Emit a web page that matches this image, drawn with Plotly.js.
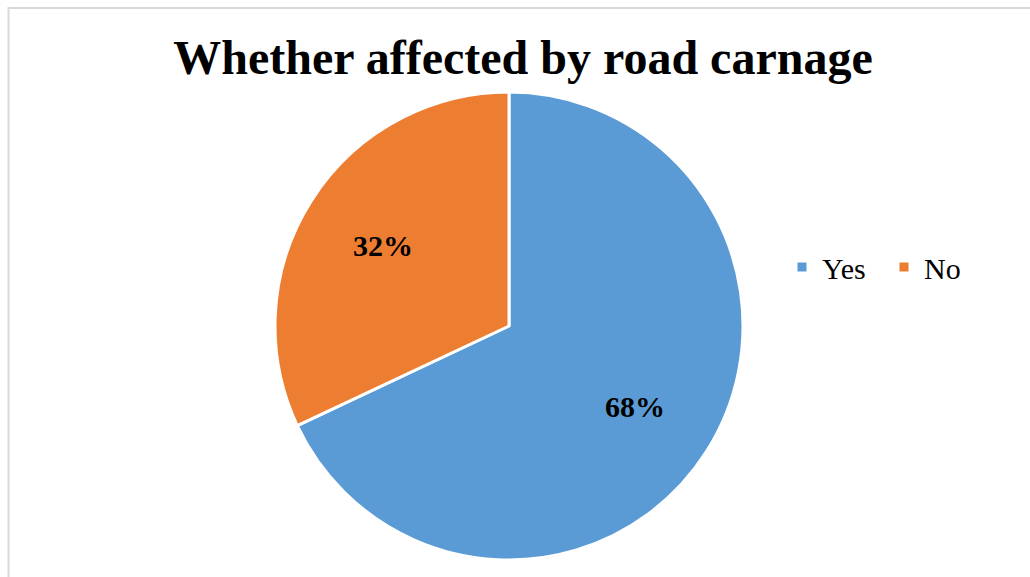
<!DOCTYPE html>
<html>
<head>
<meta charset="utf-8">
<script src="https://cdn.plot.ly/plotly-3.0.1.min.js"></script>
<style>html,body{margin:0;padding:0;background:#fff;}#chart{width:1030px;height:577px;}</style>
</head>
<body>
<div id="chart"></div>
<script>
const categories = ["Yes", "No"];
const values = [68, 32];
const colors = ["#5B9BD5", "#ED7D31"];
const titleText = "Whether affected by road carnage";

const W = 1030, H = 577;
const serif = "Liberation Serif, Times New Roman, serif";
const dom = { x: [275 / W, 743 / W], y: [(H - 560) / H, (H - 92) / H] };

// percentage labels placed along each slice's mid-angle (computed from the values)
const total = values.reduce((a, b) => a + b, 0);
const cx = (dom.x[0] + dom.x[1]) / 2, cy = (dom.y[0] + dom.y[1]) / 2;
const rx = (dom.x[1] - dom.x[0]) / 2, ry = (dom.y[1] - dom.y[0]) / 2;
let cum = 0;
const annotations = values.map((v) => {
  const mid = (cum + v / 2) / total * 2 * Math.PI;
  cum += v;
  return {
    xref: "paper", yref: "paper",
    x: cx + 0.64 * rx * Math.sin(mid), y: cy + 0.64 * ry * Math.cos(mid),
    text: "<b>" + Math.round(v / total * 100) + "%</b>",
    showarrow: false, xanchor: "center", yanchor: "middle",
    font: { family: serif, size: 30, color: "#000000" }
  };
});

const trace = {
  type: "pie",
  labels: categories,
  values: values,
  sort: false,
  direction: "clockwise",
  rotation: 0,
  marker: { colors: colors, line: { color: "#ffffff", width: 3 } },
  textinfo: "none",
  domain: dom,
  hoverinfo: "label+percent"
};
const layout = {
  width: W, height: H,
  margin: { l: 0, r: 0, t: 0, b: 0 },
  paper_bgcolor: "#ffffff",
  title: {
    text: "<b>" + titleText + "</b>",
    font: { family: serif, size: 48, color: "#000000" },
    x: 523 / W, xanchor: "center", y: 1 - 57 / H, yanchor: "middle"
  },
  annotations: annotations,
  showlegend: true,
  legend: {
    orientation: "h",
    x: 782 / W, xanchor: "left", y: 1 - 267 / H, yanchor: "middle",
    font: { family: serif, size: 30, color: "#000000" },
    itemwidth: 30,
    entrywidth: 57,
    entrywidthmode: "pixels",
    traceorder: "normal"
  },
  shapes: [{
    type: "rect", xref: "paper", yref: "paper",
    x0: 8.5 / W, x1: 1.05, y0: -0.05, y1: 1 - 8 / H,
    line: { color: "#d9d9d9", width: 2 }, fillcolor: "rgba(0,0,0,0)", layer: "below"
  }]
};
Plotly.newPlot("chart", [trace], layout, { displayModeBar: false, staticPlot: true });
</script>
</body>
</html>
